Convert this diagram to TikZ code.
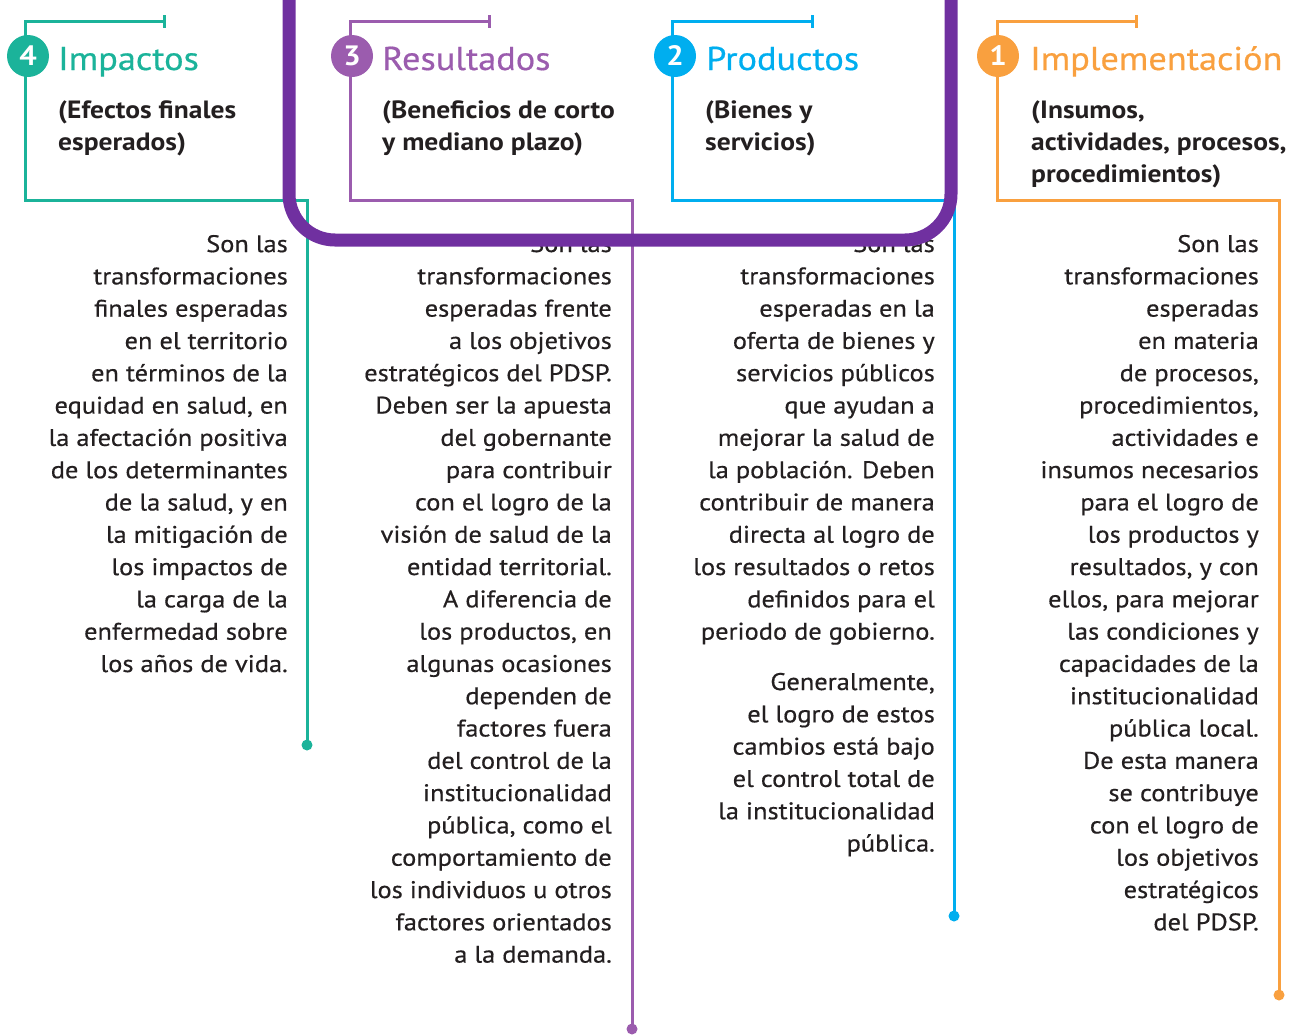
\documentclass[tikz,border=0pt]{standalone}
\usepackage{fontspec}
\setmainfont{PT Sans}[FakeStretch=1.1]
\newfontfamily\heavierfont{PT Sans}[FakeStretch=1.1, FakeBold=0.5]
\definecolor{cteal}{HTML}{1BB39A}
\definecolor{cpurp}{HTML}{9B5CAE}
\definecolor{ccyan}{HTML}{00AEEF}
\definecolor{corange}{HTML}{F9A03F}
\definecolor{cframe}{HTML}{7030A0}
\definecolor{txt}{HTML}{231F20}
\tikzset{
  ln/.style={line width=3pt},
  body/.style={anchor=base east, align=right, inner sep=0pt, font=\heavierfont\fontsize{24}{32.3}\selectfont, text=txt},
  ttl/.style={anchor=base west, inner sep=0pt, font=\heavierfont\fontsize{33}{33}\selectfont},
  sub/.style={anchor=base west, align=left, inner sep=0pt, font=\bfseries\fontsize{25}{32}\selectfont, text=txt},
  num/.style={circle, inner sep=0pt, minimum size=42pt, text=white, font=\bfseries\fontsize{28}{28}\selectfont},
  enddot/.style={circle, inner sep=0pt, minimum size=11pt},
}
\begin{document}
\begin{tikzpicture}[x=1pt,y=-1pt]
\useasboundingbox (0,0) rectangle (1297,1034);

% ---------- group 4 ----------
\coordinate (t4) at (164,21);
\coordinate (a4) at (25,21);
\coordinate (b4) at (25,200);
\coordinate (c4) at (307,200);
\node[enddot, fill=cteal] (d4) at (307,745) {};
\draw[ln, cteal] (t4) -- (a4) -- (b4) -- (c4) -- (d4.center);
\draw[ln, cteal] ([yshift=-6.5pt]t4) -- ([yshift=6.5pt]t4);
\node[num, fill=cteal] (n4) at (28,56) {4};
\node[ttl, text=cteal] (h4) at (58,70) {Impactos};
\node[sub] (s4) at (58,150) {(Efectos finales\\esperados)};
\node[body] (p4) at (288,672) {Son las\\transformaciones\\finales esperadas\\en el territorio\\en términos de la\\equidad en salud, en\\la afectación positiva\\de los determinantes\\de la salud, y en\\la mitigación de\\los impactos de\\la carga de la\\enfermedad sobre\\los años de vida.};

% ---------- group 3 ----------
\coordinate (t3) at (489,21);
\coordinate (a3) at (350,21);
\coordinate (b3) at (350,200);
\coordinate (c3) at (632,200);
\node[enddot, fill=cpurp] (d3) at (632,1029) {};
\draw[ln, cpurp] (t3) -- (a3) -- (b3) -- (c3) -- (d3.center);
\draw[ln, cpurp] ([yshift=-6.5pt]t3) -- ([yshift=6.5pt]t3);
\node[num, fill=cpurp] (n3) at (352,56) {3};
\node[ttl, text=cpurp] (h3) at (382,70) {Resultados};
\node[sub] (s3) at (382,150) {(Beneficios de corto\\y mediano plazo)};
\node[body] (p3) at (612,962.6) {Son las\\transformaciones\\esperadas frente\\a los objetivos\\estratégicos del PDSP.\\Deben ser la apuesta\\del gobernante\\para contribuir\\con el logro de la\\visión de salud de la\\entidad territorial.\\A diferencia de\\los productos, en\\algunas ocasiones\\dependen de\\factores fuera\\del control de la\\institucionalidad\\pública, como el\\comportamiento de\\los individuos u otros\\factores orientados\\a la demanda.};

% ---------- group 2 ----------
\coordinate (t2) at (812,21);
\coordinate (a2) at (672,21);
\coordinate (b2) at (672,200);
\coordinate (c2) at (954,200);
\node[enddot, fill=ccyan] (d2) at (954,916) {};
\draw[ln, ccyan] (t2) -- (a2) -- (b2) -- (c2) -- (d2.center);
\draw[ln, ccyan] ([yshift=-6.5pt]t2) -- ([yshift=6.5pt]t2);
\node[num, fill=ccyan] (n2) at (675,56) {2};
\node[ttl, text=ccyan] (h2) at (706,70) {Productos};
\node[sub] (s2) at (705,150) {(Bienes y\\servicios)};
\node[body] (p2) at (935,639.6) {Son las\\transformaciones\\esperadas en la\\oferta de bienes y\\servicios públicos\\que ayudan a\\mejorar la salud de\\la población. Deben\\contribuir de manera\\directa al logro de\\los resultados o retos\\definidos para el\\periodo de gobierno.};
\node[body] (q2) at (935,851.5) {Generalmente,\\el logro de estos\\cambios está bajo\\el control total de\\la institucionalidad\\pública.};

% ---------- group 1 ----------
\coordinate (t1) at (1136,21);
\coordinate (a1) at (997,21);
\coordinate (b1) at (997,200);
\coordinate (c1) at (1279,200);
\node[enddot, fill=corange] (d1) at (1279,995) {};
\draw[ln, corange] (t1) -- (a1) -- (b1) -- (c1) -- (d1.center);
\draw[ln, corange] ([yshift=-6.5pt]t1) -- ([yshift=6.5pt]t1);
\node[num, fill=corange] (n1) at (998,56) {1};
\node[ttl, text=corange] (h1) at (1030,70) {Implementación};
\node[sub] (s1) at (1031,182) {(Insumos,\\actividades, procesos,\\procedimientos)};
\node[body] (p1) at (1259,930.3) {Son las\\transformaciones\\esperadas\\en materia\\de procesos,\\procedimientos,\\actividades e\\insumos necesarios\\para el logro de\\los productos y\\resultados, y con\\ellos, para mejorar\\las condiciones y\\capacidades de la\\institucionalidad\\pública local.\\De esta manera\\se contribuye\\con el logro de\\los objetivos\\estratégicos\\del PDSP.};

% ---------- purple frame ----------
\coordinate (f1) at (289,-10);
\coordinate (f2) at (289,240);
\coordinate (f3) at (951,240);
\coordinate (f4) at (951,-10);
\draw[cframe, line width=13pt, rounded corners=46pt] (f1) -- (f2) -- (f3) -- (f4);
\end{tikzpicture}
\end{document}
